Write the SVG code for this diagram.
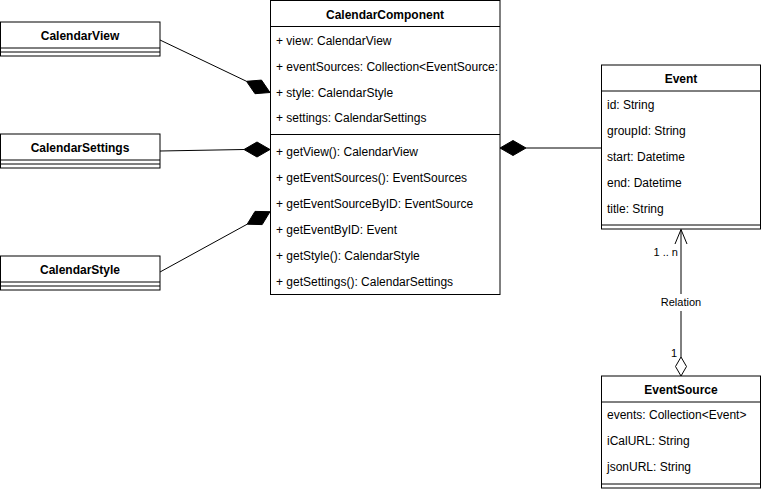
<svg xmlns="http://www.w3.org/2000/svg" width="762" height="489" viewBox="0 0 762 489">
<style>
.box{fill:#fff;stroke:#000;stroke-width:1}
.sep{stroke:#000;stroke-width:1;fill:none}
.t{font-family:"Liberation Sans",Arial,Helvetica,sans-serif;font-size:12px;fill:#000}
.b{font-weight:bold;text-anchor:middle}
.lbl{font-family:"Liberation Sans",Arial,Helvetica,sans-serif;font-size:11px;fill:#000}
.ln{stroke:#000;stroke-width:1;fill:none}
.fd{fill:#000;stroke:#000;stroke-width:1}
.od{fill:#fff;stroke:#000;stroke-width:1}
</style>
<rect width="762" height="489" fill="#fff"/>
<g id="connectors">
  <line class="ln" x1="160" y1="40" x2="246.5" y2="81.3"/>
  <polygon class="fd" points="270,92.5 261.5,80.1 246.5,81.3 255,93.7"/>
  <line class="ln" x1="160" y1="151" x2="244" y2="149.5"/>
  <polygon class="fd" points="270,149.5 257,142 244,149.5 257,157"/>
  <line class="ln" x1="160" y1="272" x2="247.2" y2="224.2"/>
  <polygon class="fd" points="270,211.7 255,211.4 247.2,224.2 262.2,224.6"/>
  <line class="ln" x1="526" y1="148" x2="601" y2="148"/>
  <polygon class="fd" points="500,148 513,140.5 526,148 513,155.5"/>
  <line class="ln" x1="681" y1="229.5" x2="681" y2="357"/>
  <polyline class="ln" points="675,244 681,229.5 687,244"/>
  <polygon class="od" points="681,357 686.5,366.5 681,376 675.5,366.5"/>
  <text class="lbl" x="678" y="256" text-anchor="end">1 .. n</text>
  <rect x="659" y="294" width="44" height="17" fill="#fff"/>
  <text class="lbl" x="681" y="306" text-anchor="middle">Relation</text>
  <text class="lbl" x="677" y="357" text-anchor="end">1</text>
</g>
<g id="CalendarView">
  <rect class="box" x="0.5" y="22" width="159.5" height="34"/>
  <line class="sep" x1="0.5" y1="48" x2="160" y2="48"/>
  <line class="sep" x1="0.5" y1="52" x2="160" y2="52"/>
  <text class="t b" x="80" y="39.5">CalendarView</text>
</g>
<g id="CalendarSettings">
  <rect class="box" x="0.5" y="134" width="159.5" height="34"/>
  <line class="sep" x1="0.5" y1="160" x2="160" y2="160"/>
  <line class="sep" x1="0.5" y1="164" x2="160" y2="164"/>
  <text class="t b" x="80" y="151.5">CalendarSettings</text>
</g>
<g id="CalendarStyle">
  <rect class="box" x="0.5" y="256" width="159.5" height="34"/>
  <line class="sep" x1="0.5" y1="282" x2="160" y2="282"/>
  <line class="sep" x1="0.5" y1="286" x2="160" y2="286"/>
  <text class="t b" x="80" y="273.5">CalendarStyle</text>
</g>
<g id="CalendarComponent">
  <rect class="box" x="270.5" y="0.5" width="229.5" height="294"/>
  <line class="sep" x1="270.5" y1="26.5" x2="500" y2="26.5"/>
  <line class="sep" x1="270.5" y1="134.5" x2="500" y2="134.5"/>
  <text class="t b" x="385" y="18.5">CalendarComponent</text>
  <text class="t" x="276" y="45">+ view: CalendarView</text>
  <text class="t" x="276" y="71">+ eventSources: Collection&lt;EventSource:</text>
  <text class="t" x="276" y="97">+ style: CalendarStyle</text>
  <text class="t" x="276" y="122">+ settings: CalendarSettings</text>
  <text class="t" x="276" y="156">+ getView(): CalendarView</text>
  <text class="t" x="276" y="182">+ getEventSources(): EventSources</text>
  <text class="t" x="276" y="208">+ getEventSourceByID: EventSource</text>
  <text class="t" x="276" y="234">+ getEventByID: Event</text>
  <text class="t" x="276" y="260">+ getStyle(): CalendarStyle</text>
  <text class="t" x="276" y="286">+ getSettings(): CalendarSettings</text>
</g>
<g id="Event">
  <rect class="box" x="601.5" y="65" width="159" height="164"/>
  <line class="sep" x1="601.5" y1="91" x2="760.5" y2="91"/>
  <line class="sep" x1="601.5" y1="225" x2="760.5" y2="225"/>
  <text class="t b" x="681" y="82.5">Event</text>
  <text class="t" x="607" y="109">id: String</text>
  <text class="t" x="607" y="135">groupId: String</text>
  <text class="t" x="607" y="161">start: Datetime</text>
  <text class="t" x="607" y="187">end: Datetime</text>
  <text class="t" x="607" y="213">title: String</text>
</g>
<g id="EventSource">
  <rect class="box" x="601.5" y="376" width="159" height="112"/>
  <line class="sep" x1="601.5" y1="402" x2="760.5" y2="402"/>
  <line class="sep" x1="601.5" y1="484" x2="760.5" y2="484"/>
  <text class="t b" x="681" y="393.5">EventSource</text>
  <text class="t" x="607" y="419">events: Collection&lt;Event&gt;</text>
  <text class="t" x="607" y="445">iCalURL: String</text>
  <text class="t" x="607" y="471">jsonURL: String</text>
</g>
</svg>
